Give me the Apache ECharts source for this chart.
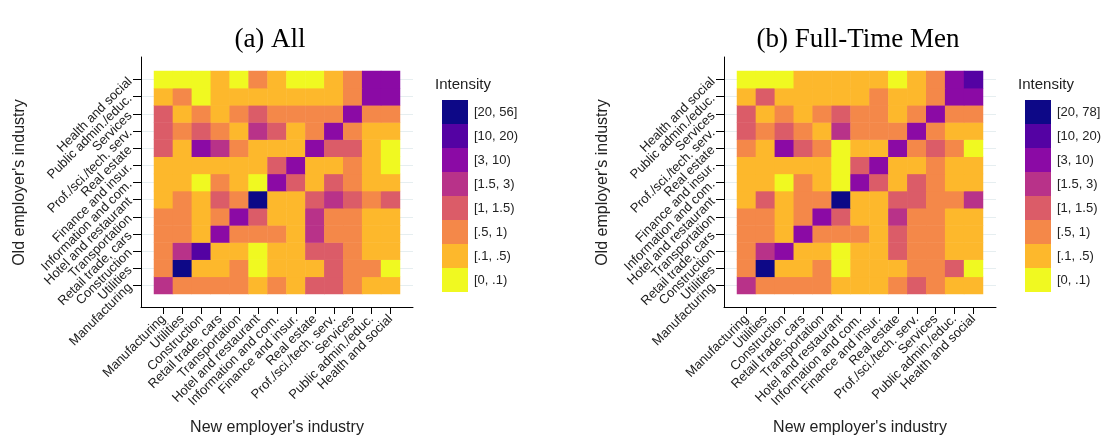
<!DOCTYPE html>
<html>
<head>
<meta charset="utf-8">
<script src="https://cdn.jsdelivr.net/npm/echarts@6/dist/echarts.min.js"></script>
<style>
body{margin:0;background:#fff}
#main{width:1104px;height:442px}
</style>
</head>
<body>
<div id="main"></div>
<script>
var industries = ['Manufacturing', 'Utilities', 'Construction', 'Retail trade, cars', 'Transportation',
	'Hotel and restaurant', 'Information and com.', 'Finance and insur.', 'Real estate',
	'Prof./sci./tech. serv.', 'Services', 'Public admin./educ.', 'Health and social'];

// rows = old employer's industry (Manufacturing first), columns = new employer's industry
var allValues = [
	[2.4, .62, .71, .58, .66, .38, .55, .27, 1.21, 1.32, .74, .41, .22],
	[.83, 56, .33, .44, .52, .06, .31, .25, .42, 1.12, .68, .57, .08],
	[.64, 1.8, 14.2, .46, .35, .09, .28, .18, 1.08, 1.27, .85, .36, .21],
	[.77, .54, .47, 4.6, .81, .63, .52, .43, 1.7, .92, .69, .32, .39],
	[.68, .73, .44, .88, 6.3, 1.06, .37, .29, 1.9, .61, .72, .27, .34],
	[.35, .56, .26, 1.14, .65, 24, .41, .33, 1.35, 2.2, 1.18, .78, 1.04],
	[.42, .31, .07, .59, .45, .08, 7.4, 1.16, .48, 1.43, .86, .37, .29],
	[.28, .39, .21, .47, .24, .32, 1.29, 8.1, .46, .43, .63, .25, .09],
	[1.09, .49, 3.4, 1.6, .74, .29, .45, .38, 9.2, 1.24, 1.11, .33, .06],
	[1.17, .69, 1.03, .57, .43, 1.75, 1.38, .36, .82, 5.8, .93, .44, .31],
	[1.22, .46, .67, .34, .76, 1.07, .71, .84, .59, .95, 4.3, .66, .58],
	[.31, .61, .04, .27, .36, .23, .42, .34, .19, .47, .79, 6.7, 3.6],
	[.03, .08, .05, .17, .07, .53, .21, .06, .04, .26, .64, 3.8, 7.9]
];
var menValues = [
	[2.6, .66, .74, .61, .69, .34, .43, .24, .57, 1.19, .76, .38, .2],
	[.79, 78, .36, .41, .55, .05, .28, .22, .39, .92, .71, 1.13, .07],
	[.61, 1.7, 9.6, .44, .32, .08, .3, .16, 1.02, .88, .81, .33, .19],
	[.74, .58, .45, 5.1, .84, .6, .55, .4, 1.36, .89, .67, .3, .37],
	[.7, .75, .41, .86, 7.1, 1.1, .35, .27, 1.65, .64, .7, .25, .32],
	[.33, 1.15, .29, .62, .71, 26, .38, .31, 1.28, 1.09, .83, .69, 2.3],
	[.4, .33, .06, .63, .42, .07, 8.3, 1.21, .45, 1.37, .81, .35, .27],
	[.26, .37, .2, .44, .22, .09, 1.33, 9.4, .43, .4, .6, .23, .14],
	[.96, .47, 3.2, 1.42, .72, .08, .41, .36, 9.8, .87, 1.19, .56, .05],
	[1.14, .67, 1.06, .54, .41, 1.85, .93, .77, .8, 6.2, .9, .42, .29],
	[1.2, .44, .65, .32, .73, 1.04, .68, .82, .47, .91, 4.7, .63, .56],
	[.29, 1.02, .18, .25, .34, .21, .4, .52, .17, .45, .77, 7.2, 4.1],
	[.04, .07, .06, .15, .12, .19, .23, .11, .05, .24, .62, 4.4, 11.5]
];

var breaks = [0, .1, .5, 1, 1.5, 3, 10, 20];
var breakLabels = ['[0, .1)', '[.1, .5)', '[.5, 1)', '[1, 1.5)', '[1.5, 3)', '[3, 10)', '[10, 20)'];
var classColors = ['#f0f921', '#fdb82c', '#f48849', '#db5c68', '#b83289', '#8b0aa5', '#5402a3', '#0d0887'];

var sans = 'Liberation Sans';
var myChart = echarts.init(document.getElementById('main'));

function toCells(values){
	var out = [];
	for(var i = 0; i < values.length; i++){
		for(var j = 0; j < values[i].length; j++){
			out.push([j, i, values[i][j]]);
		}
	}
	return out;
}

function maxOf(values){
	var m = 0;
	values.forEach(function(r){ r.forEach(function(v){ if(v > m) m = v; }); });
	return m;
}

function makePieces(maxVal){
	var pieces = [];
	for(var k = 0; k < breaks.length; k++){
		var p = {gte: breaks[k], color: classColors[k]};
		if(k < breaks.length - 1){
			p.lt = breaks[k + 1];
			p.label = breakLabels[k];
		} else {
			p.lte = maxVal;
			p.label = '[' + breaks[k] + ', ' + maxVal + ']';
		}
		pieces.push(p);
	}
	return pieces;
}

var option = {
	backgroundColor: '#fff',
	animation: false,
	grid: [],
	xAxis: [],
	yAxis: [],
	series: [],
	visualMap: [],
	graphic: []
};

//one panel = frame grid + cell grid + label/gridline grid
function addPanel(p, x0, values, title, titleX, legendX){
	var g = p * 3;
	option.grid.push(
		{left: x0, top: 57, width: 272, height: 250},
		{left: x0 + 13, top: 71, width: 246, height: 223},
		{left: x0, top: 79.58, width: 272, height: 205.85}
	);
	//frame
	option.xAxis.push({gridIndex: g, type: 'value', min: 0, max: 1,
		axisLine: {show: true, onZero: false, lineStyle: {color: '#000', width: 1}},
		axisTick: {show: false}, axisLabel: {show: false}, splitLine: {show: false}});
	option.yAxis.push({gridIndex: g, type: 'value', min: 0, max: 1,
		axisLine: {show: true, onZero: false, lineStyle: {color: '#000', width: 1}},
		axisTick: {show: false}, axisLabel: {show: false}, splitLine: {show: false}});
	//cells
	option.xAxis.push({gridIndex: g + 1, type: 'category', data: industries, offset: 13,
		axisLine: {show: false},
		axisTick: {show: true, alignWithLabel: true, length: 7, lineStyle: {color: '#000'}},
		axisLabel: {rotate: 45, fontSize: 13, fontFamily: sans, color: '#222', margin: 10, interval: 0},
		splitLine: {show: false},
		name: "New employer's industry", nameLocation: 'middle', nameGap: 113,
		nameTextStyle: {fontSize: 16, fontFamily: sans, color: '#222'}});
	option.yAxis.push({gridIndex: g + 1, type: 'category', data: industries, show: false});
	//y labels and grid lines
	option.xAxis.push({gridIndex: g + 2, type: 'value', show: false});
	option.yAxis.push({gridIndex: g + 2, type: 'category', data: industries, boundaryGap: false,
		axisLine: {show: false},
		axisTick: {show: true, length: 8, lineStyle: {color: '#000'}},
		axisLabel: {rotate: 45, fontSize: 13, fontFamily: sans, color: '#222', margin: 11, interval: 0},
		splitLine: {show: true, lineStyle: {color: '#e6eef0', width: 1}},
		name: "Old employer's industry", nameLocation: 'middle', nameGap: 113,
		nameTextStyle: {fontSize: 16, fontFamily: sans, color: '#222'}});

	option.series.push({type: 'heatmap', xAxisIndex: g + 1, yAxisIndex: g + 1,
		data: toCells(values), itemStyle: {borderWidth: 0}});

	option.visualMap.push({type: 'piecewise', seriesIndex: p, dimension: 2,
		pieces: makePieces(maxOf(values)), left: legendX, top: 100, orient: 'vertical',
		align: 'left', padding: 0,
		itemWidth: 26, itemHeight: 24, itemGap: 0, itemSymbol: 'rect', textGap: 6,
		selectedMode: false, hoverLink: false,
		textStyle: {fontSize: 13, fontFamily: sans, color: '#222'}});

	option.graphic.push(
		{type: 'text', x: titleX, y: 40, style: {text: title, font: '27px "Liberation Serif"', fill: '#000', textAlign: 'center', textVerticalAlign: 'middle'}},
		{type: 'text', x: legendX + 21, y: 85, style: {text: 'Intensity', font: '15px "Liberation Sans"', fill: '#222', textAlign: 'center', textVerticalAlign: 'middle'}}
	);
}

addPanel(0, 141, allValues, '(a) All', 270, 442);
addPanel(1, 724, menValues, '(b) Full-Time Men', 858, 1025);

myChart.setOption(option);
</script>
</body>
</html>
